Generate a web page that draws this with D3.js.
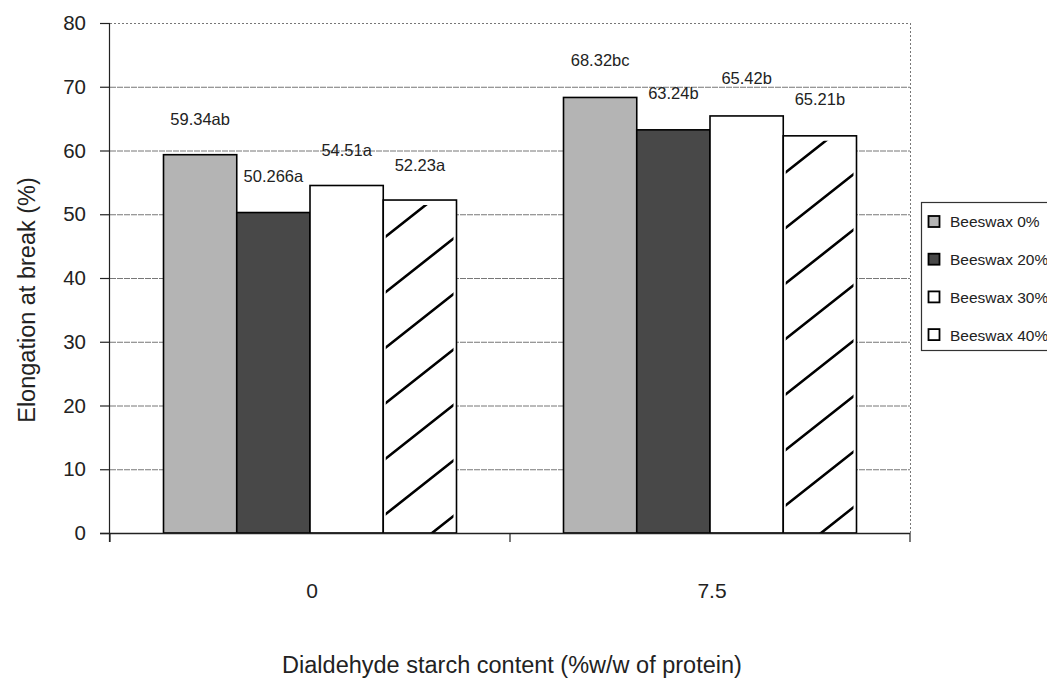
<!DOCTYPE html>
<html>
<head>
<meta charset="utf-8">
<script src="https://cdn.jsdelivr.net/npm/d3@7"></script>
<style>
  body { margin: 0; background: #fff; }
  svg { display: block; font-family: "Liberation Sans", Arial, sans-serif; }
</style>
</head>
<body>
<div id="chart"></div>
<script>
// data
const categories = ["0", "7.5"];
const series = ["Beeswax 0%", "Beeswax 20%", "Beeswax 30%", "Beeswax 40%"];
const values0 = [59.34, 50.27, 54.51, 52.23];
const values75 = [68.32, 63.24, 65.42, 62.3];
const labels0 = ["59.34ab", "50.266a", "54.51a", "52.23a"];
const labels75 = ["68.32bc", "63.24b", "65.42b", "65.21b"];
// where the labels sit, in y-axis units (they were dragged around in the original)
const labelAt0 = [64.9, 55.9, 60.1, 57.7];
const labelAt75 = [74.1, 69.0, 71.3, 68.0];
const yTicks = [0, 10, 20, 30, 40, 50, 60, 70, 80];

const rows = [
  { cat: "0", values: values0, labels: labels0, labelAt: labelAt0 },
  { cat: "7.5", values: values75, labels: labels75, labelAt: labelAt75 }
];

const width = 1047, height = 682;
const plotLeft = 110, plotRight = 910, plotTop = 23, plotBottom = 533;
const fills = ["#b4b4b4", "#484848", "#ffffff", "#ffffff"];
const textColor = "#222";

const svg = d3.select("#chart").append("svg")
  .attr("width", width)
  .attr("height", height);

const x0 = d3.scaleBand()
  .domain(categories)
  .range([plotLeft, plotRight])
  .paddingInner(0.2675)
  .paddingOuter(0.13375);

const x1 = d3.scaleBand()
  .domain(series)
  .range([0, x0.bandwidth()]);

const y = d3.scaleLinear()
  .domain([0, 80])
  .range([plotBottom, plotTop]);

// gridlines
svg.append("g")
  .selectAll("line")
  .data(yTicks.filter(d => d > 0))
  .join("line")
  .attr("x1", plotLeft).attr("x2", plotRight)
  .attr("y1", d => y(d) + 0.5).attr("y2", d => y(d) + 0.5)
  .attr("stroke", "#777")
  .attr("stroke-width", 1)
  .attr("stroke-dasharray", d => d === 80 ? "2,2" : "6,1");

// right border (dotted)
svg.append("line")
  .attr("x1", plotRight + 0.5).attr("x2", plotRight + 0.5)
  .attr("y1", y(80)).attr("y2", y(0))
  .attr("stroke", "#777")
  .attr("stroke-dasharray", "2,2");

const defs = svg.append("defs");

// bars
const groups = svg.append("g")
  .selectAll("g")
  .data(rows)
  .join("g")
  .attr("transform", d => `translate(${x0(d.cat)},0)`);

groups.each(function (row, gi) {
  const g = d3.select(this);
  row.values.forEach((v, i) => {
    const bx = x1(series[i]), bw = x1.bandwidth();
    const by = y(v), bh = y(0) - y(v);
    g.append("rect")
      .attr("x", bx).attr("y", by)
      .attr("width", bw).attr("height", bh)
      .attr("fill", fills[i])
      .attr("stroke", "#000")
      .attr("stroke-width", 1.6);

    if (i === 3) {
      // hatch lines, clipped to the inside of the bar
      const clipId = "clip" + gi;
      defs.append("clipPath").attr("id", clipId)
        .append("rect")
        .attr("x", bx + 2.5).attr("y", by + 5)
        .attr("width", bw - 5.5).attr("height", bh - 5);
      const slope = 0.79, gap = 55.5;
      const hatch = g.append("g").attr("clip-path", `url(#${clipId})`);
      for (let yl = by + 38.5; yl - slope * bw < y(0) + gap; yl += gap) {
        hatch.append("line")
          .attr("x1", bx).attr("y1", yl)
          .attr("x2", bx + bw).attr("y2", yl - slope * bw)
          .attr("stroke", "#000")
          .attr("stroke-width", 2.6)
          .attr("stroke-linecap", "round");
      }
    }

    g.append("text")
      .attr("x", bx + bw / 2)
      .attr("y", y(row.labelAt[i]))
      .attr("dy", "0.35em")
      .attr("text-anchor", "middle")
      .attr("font-size", 16.5)
      .attr("fill", textColor)
      .text(row.labels[i]);
  });
});

// y axis
svg.append("line")
  .attr("x1", plotLeft - 0.5).attr("x2", plotLeft - 0.5)
  .attr("y1", y(80)).attr("y2", y(0) + 9)
  .attr("stroke", "#222").attr("stroke-width", 1.2);

svg.append("g")
  .selectAll("line")
  .data(yTicks)
  .join("line")
  .attr("x1", plotLeft - 10).attr("x2", plotLeft)
  .attr("y1", d => y(d) + 0.5).attr("y2", d => y(d) + 0.5)
  .attr("stroke", "#222").attr("stroke-width", 1.2);

svg.append("g")
  .selectAll("text")
  .data(yTicks)
  .join("text")
  .attr("x", plotLeft - 24)
  .attr("y", d => y(d))
  .attr("dy", "0.35em")
  .attr("text-anchor", "end")
  .attr("font-size", 20.5)
  .attr("fill", textColor)
  .text(d => d);

// x axis
svg.append("line")
  .attr("x1", plotLeft - 10).attr("x2", plotRight)
  .attr("y1", y(0) + 0.5).attr("y2", y(0) + 0.5)
  .attr("stroke", "#222").attr("stroke-width", 1.4);

const edges = [plotLeft].concat(categories.map(c => x0(c) - x0.step() * x0.paddingOuter() + x0.step()));
svg.append("g")
  .selectAll("line")
  .data(edges)
  .join("line")
  .attr("x1", d => d).attr("x2", d => d)
  .attr("y1", y(0)).attr("y2", y(0) + 9)
  .attr("stroke", "#222").attr("stroke-width", 1.2);

svg.append("g")
  .selectAll("text")
  .data(categories)
  .join("text")
  .attr("x", d => x0(d) + x0.bandwidth() / 2 + 2)
  .attr("y", y(0) + 58)
  .attr("dy", "0.35em")
  .attr("text-anchor", "middle")
  .attr("font-size", 21)
  .attr("fill", textColor)
  .text(d => d);

// axis titles
svg.append("text")
  .attr("x", 512)
  .attr("y", 665)
  .attr("dy", "0.35em")
  .attr("text-anchor", "middle")
  .attr("font-size", 23.5)
  .attr("fill", textColor)
  .text("Dialdehyde starch content (%w/w of protein)");

svg.append("text")
  .attr("transform", "translate(27,300) rotate(-90)")
  .attr("dy", "0.35em")
  .attr("text-anchor", "middle")
  .attr("font-size", 23.5)
  .attr("fill", textColor)
  .text("Elongation at break (%)");

// legend
const legend = svg.append("g").attr("transform", "translate(921,202)");
legend.append("rect")
  .attr("x", 0.5).attr("y", 0.5)
  .attr("width", 140).attr("height", 148)
  .attr("fill", "#fff")
  .attr("stroke", "#333")
  .attr("stroke-width", 1.2);

const item = legend.selectAll("g.item")
  .data(series)
  .join("g")
  .attr("class", "item")
  .attr("transform", (d, i) => `translate(0,${20 + i * 37.7})`);

item.append("rect")
  .attr("x", 7.5).attr("y", -6)
  .attr("width", 11).attr("height", 11)
  .attr("fill", (d, i) => fills[i])
  .attr("stroke", "#000")
  .attr("stroke-width", 1.8);

item.append("text")
  .attr("x", 29)
  .attr("y", 0)
  .attr("dy", "0.35em")
  .attr("font-size", 15.5)
  .attr("fill", textColor)
  .text(d => d);
</script>
</body>
</html>
